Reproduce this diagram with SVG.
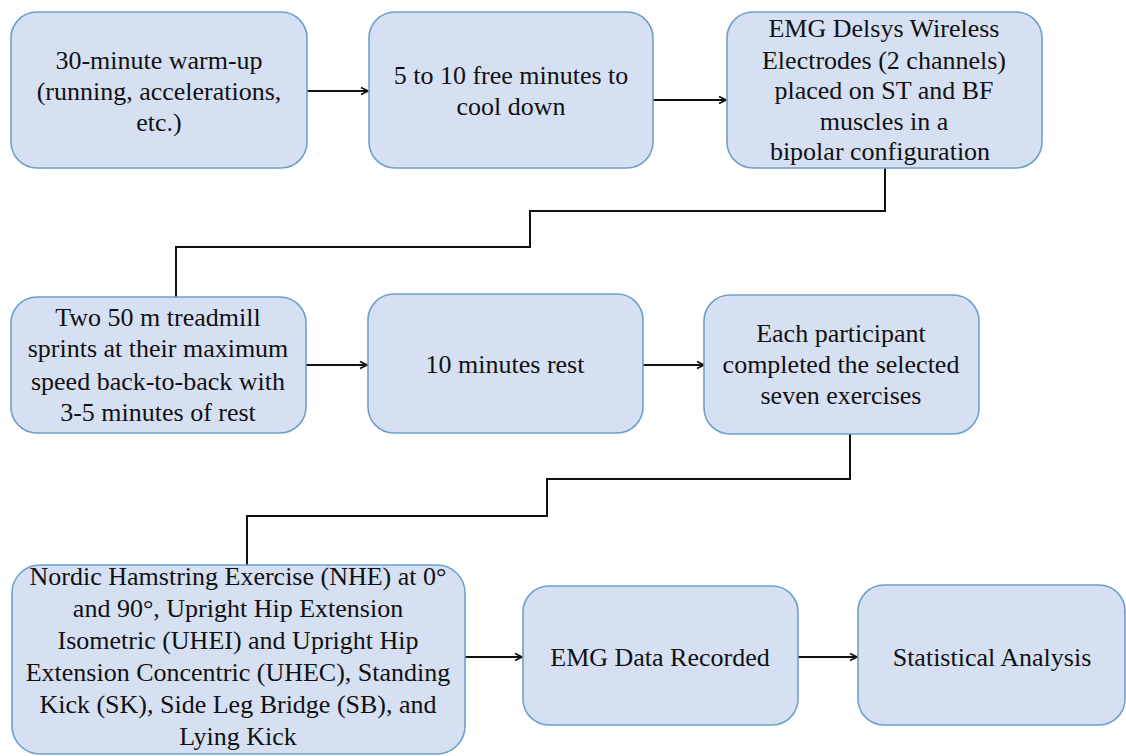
<svg xmlns="http://www.w3.org/2000/svg" width="1126" height="756" viewBox="0 0 1126 756">
  <style>
    .box { fill: #d6e0f3; stroke: #6f9fcb; stroke-width: 1.6; }
    .t { font-family: 'Liberation Serif', 'Times New Roman', serif; font-size: 26px; fill: #111; text-anchor: middle; }
    .c { fill: none; stroke: #111; stroke-width: 2; }
    .a { fill: none; stroke: #111; stroke-width: 1.8; marker-end: url(#ah); }
  </style>
  <defs>
    <marker id="ah" markerWidth="10" markerHeight="10" refX="8" refY="5" orient="auto" markerUnits="userSpaceOnUse">
      <path d="M1,1.5 L8,5 L1,8.5" fill="none" stroke="#111" stroke-width="1.8"/>
    </marker>
  </defs>
  <rect width="1126" height="756" fill="#ffffff"/>

  <g id="connectors">
    <line class="a" x1="307" y1="91" x2="368" y2="91"/>
    <line class="a" x1="653" y1="100" x2="726" y2="100"/>
    <polyline class="c" points="885,168 885,211 530,211 530,247 176,247 176,297"/>
    <line class="a" x1="306" y1="365" x2="367" y2="365"/>
    <line class="a" x1="643" y1="365" x2="704" y2="365"/>
    <polyline class="c" points="850,434 850,479 547,479 547,516 247,516 247,565"/>
    <line class="a" x1="465" y1="657" x2="522" y2="657"/>
    <line class="a" x1="798" y1="657" x2="857" y2="657"/>
  </g>

  <g id="n1">
    <rect class="box" x="11" y="12" width="296" height="156" rx="26"/>
    <text class="t" x="159" y="69">30-minute warm-up</text>
    <text class="t" x="159" y="100">(running, accelerations,</text>
    <text class="t" x="159" y="131">etc.)</text>
  </g>
  <g id="n2">
    <rect class="box" x="369" y="12" width="284" height="156" rx="26"/>
    <text class="t" x="511" y="84">5 to 10 free minutes to</text>
    <text class="t" x="511" y="115">cool down</text>
  </g>
  <g id="n3">
    <rect class="box" x="727" y="12" width="315" height="156" rx="26"/>
    <text class="t" x="884" y="37">EMG Delsys Wireless</text>
    <text class="t" x="884" y="69">Electrodes (2 channels)</text>
    <text class="t" x="884" y="99">placed on ST and BF</text>
    <text class="t" x="884" y="130">muscles in a</text>
    <text class="t" x="880" y="160">bipolar configuration</text>
  </g>
  <g id="n4">
    <rect class="box" x="11" y="297" width="295" height="136" rx="26"/>
    <text class="t" x="158" y="326">Two 50 m treadmill</text>
    <text class="t" x="158" y="357">sprints at their maximum</text>
    <text class="t" x="158" y="390">speed back-to-back with</text>
    <text class="t" x="158" y="421">3-5 minutes of rest</text>
  </g>
  <g id="n5">
    <rect class="box" x="368" y="294" width="275" height="139" rx="26"/>
    <text class="t" x="505" y="373">10 minutes rest</text>
  </g>
  <g id="n6">
    <rect class="box" x="704" y="295" width="275" height="139" rx="26"/>
    <text class="t" x="841" y="342">Each participant</text>
    <text class="t" x="841" y="373">completed the selected</text>
    <text class="t" x="841" y="404">seven exercises</text>
  </g>
  <g id="n7">
    <rect class="box" x="12" y="565" width="453" height="189" rx="28"/>
    <text class="t" x="238" y="585">Nordic Hamstring Exercise (NHE) at 0°</text>
    <text class="t" x="238" y="617">and 90°, Upright Hip Extension</text>
    <text class="t" x="238" y="649">Isometric (UHEI) and Upright Hip</text>
    <text class="t" x="238" y="681">Extension Concentric (UHEC), Standing</text>
    <text class="t" x="238" y="713">Kick (SK), Side Leg Bridge (SB), and</text>
    <text class="t" x="238" y="745">Lying Kick</text>
  </g>
  <g id="n8">
    <rect class="box" x="523" y="586" width="275" height="139" rx="26"/>
    <text class="t" x="660" y="666">EMG Data Recorded</text>
  </g>
  <g id="n9">
    <rect class="box" x="858" y="585" width="267" height="140" rx="26"/>
    <text class="t" x="992" y="666">Statistical Analysis</text>
  </g>
</svg>
